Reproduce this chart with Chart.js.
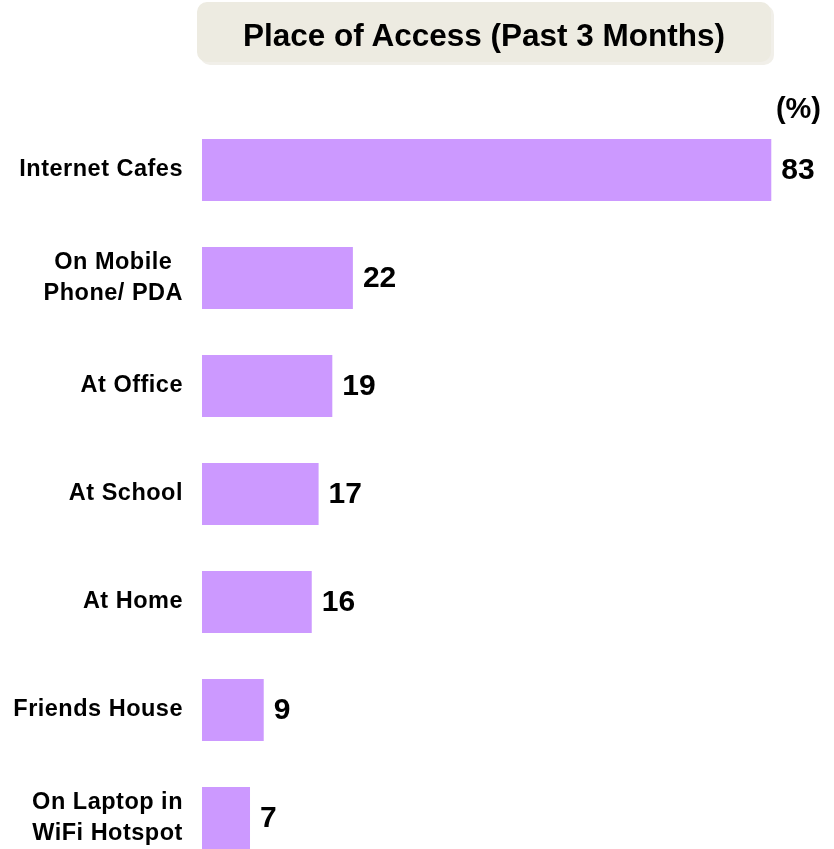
<!DOCTYPE html>
<html>
<head>
<meta charset="utf-8">
<title>Place of Access</title>
<script src="https://cdn.jsdelivr.net/npm/chart.js@4.4.1/dist/chart.umd.min.js"></script>
<style>
  html, body { margin: 0; padding: 0; background: #fff; overflow: hidden; }
  #wrap { position: relative; width: 834px; height: 872px; }
  #title {
    position: absolute; left: 197px; top: 2px; width: 574px; height: 60px;
    background: #edebe1; border-radius: 10px;
    box-shadow: 3px 3px 0 #f1efe9;
    font: bold 31.5px "Liberation Sans", Arial, sans-serif;
    line-height: 66px; text-align: center; color: #000;
  }
</style>
</head>
<body>
<div id="wrap">
  <div id="title">Place of Access (Past 3 Months)</div>
  <canvas id="chart" width="834" height="872"></canvas>
</div>
<script>
const places = [
  ['Internet Cafes'],
  ['On Mobile', 'Phone/ PDA'],
  ['At Office'],
  ['At School'],
  ['At Home'],
  ['Friends House'],
  ['On Laptop in', 'WiFi Hotspot']
];
const shares = [83, 22, 19, 17, 16, 9, 7];
const unitLabel = '(%)';

const FONT = '"Liberation Sans", Arial, sans-serif';

// category names on the left and values at the end of each bar
const barText = {
  id: 'barText',
  afterDatasetsDraw(chart) {
    const ctx = chart.ctx;
    const yScale = chart.scales.y;
    const bars = chart.getDatasetMeta(0).data;
    ctx.save();
    ctx.fillStyle = '#000';
    ctx.textBaseline = 'middle';

    ctx.font = 'bold 23.5px ' + FONT;
    ctx.letterSpacing = '0.5px';
    ctx.textAlign = 'center';
    places.forEach((lines, i) => {
      const y = yScale.getPixelForValue(i);
      const w = Math.max(...lines.map(l => ctx.measureText(l).width));
      const cx = 183 - w / 2;
      const lh = 31;
      lines.forEach((line, j) => {
        ctx.fillText(line, cx, y + (j - (lines.length - 1) / 2) * lh);
      });
    });

    ctx.letterSpacing = '0px';
    ctx.font = 'bold 30px ' + FONT;
    ctx.textAlign = 'left';
    bars.forEach((bar, i) => {
      ctx.fillText(String(shares[i]), bar.x + 10, bar.y + 1);
    });

    ctx.font = 'bold 29px ' + FONT;
    ctx.textAlign = 'right';
    ctx.fillText(unitLabel, 821, 110);
    ctx.restore();
  }
};

new Chart(document.getElementById('chart'), {
  type: 'bar',
  data: {
    labels: places,
    datasets: [{
      data: shares,
      backgroundColor: '#cc99ff',
      borderWidth: 0,
      barPercentage: 0.575,
      categoryPercentage: 1
    }]
  },
  options: {
    indexAxis: 'y',
    responsive: false,
    animation: false,
    layout: { padding: { left: 202, right: 49, top: 116, bottom: 0 } },
    scales: {
      x: { display: false, min: 0, max: 85 },
      y: { display: false }
    },
    plugins: {
      legend: { display: false },
      tooltip: { enabled: false }
    }
  },
  plugins: [barText]
});
</script>
</body>
</html>
